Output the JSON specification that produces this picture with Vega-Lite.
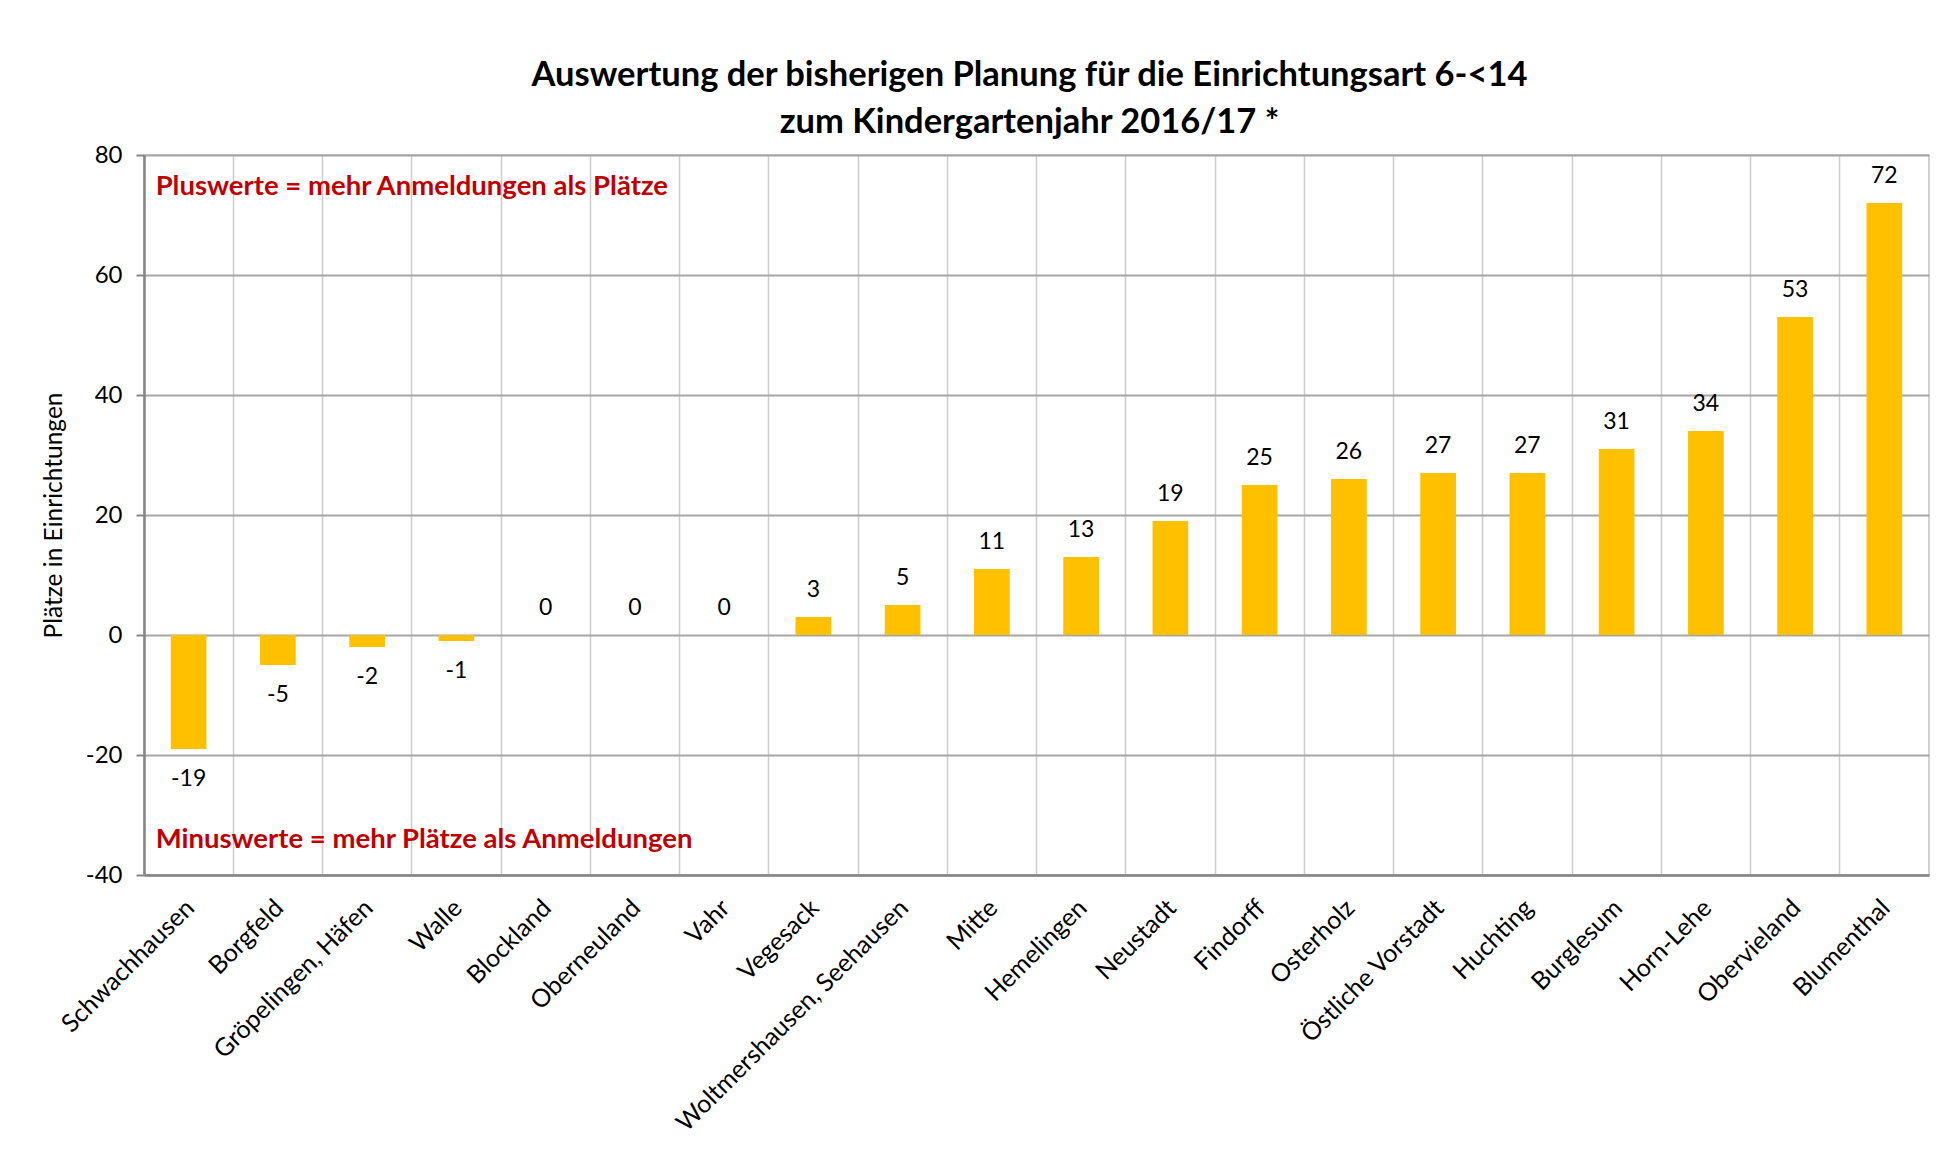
{
  "$schema": "https://vega.github.io/schema/vega-lite/v6.json",
  "width": 1785,
  "height": 720,
  "autosize": {"type": "none"},
  "padding": {"left": 144, "top": 155, "right": 10, "bottom": 275},
  "background": "white",
  "config": {
    "font": "Lato",
    "view": {"stroke": "#c4c4c4", "strokeWidth": 1.5},
    "axisX": {"gridColor": "#cccccc", "gridWidth": 1.5},
    "axisY": {"gridColor": "#a6a6a6", "gridWidth": 2}
  },
  "title": {
    "text": ["Auswertung der bisherigen Planung für die Einrichtungsart 6-<14", "zum Kindergartenjahr 2016/17 *"],
    "font": "Lato",
    "fontSize": 34.5,
    "fontWeight": "bold",
    "color": "#000000",
    "anchor": "middle",
    "lineHeight": 47,
    "offset": 3,
    "dx": -7
  },
  "datasets": {
    "bars": [
      {"bezirk": "Schwachhausen", "wert": -19},
      {"bezirk": "Borgfeld", "wert": -5},
      {"bezirk": "Gröpelingen, Häfen", "wert": -2},
      {"bezirk": "Walle", "wert": -1},
      {"bezirk": "Blockland", "wert": 0},
      {"bezirk": "Oberneuland", "wert": 0},
      {"bezirk": "Vahr", "wert": 0},
      {"bezirk": "Vegesack", "wert": 3},
      {"bezirk": "Woltmershausen, Seehausen", "wert": 5},
      {"bezirk": "Mitte", "wert": 11},
      {"bezirk": "Hemelingen", "wert": 13},
      {"bezirk": "Neustadt", "wert": 19},
      {"bezirk": "Findorff", "wert": 25},
      {"bezirk": "Osterholz", "wert": 26},
      {"bezirk": "Östliche Vorstadt", "wert": 27},
      {"bezirk": "Huchting", "wert": 27},
      {"bezirk": "Burglesum", "wert": 31},
      {"bezirk": "Horn-Lehe", "wert": 34},
      {"bezirk": "Obervieland", "wert": 53},
      {"bezirk": "Blumenthal", "wert": 72}
    ],
    "notes": [
      {"bezirk": "Schwachhausen", "wert": 74.7, "text": "Pluswerte = mehr Anmeldungen als Plätze"},
      {"bezirk": "Schwachhausen", "wert": -34.2, "text": "Minuswerte = mehr Plätze als Anmeldungen"}
    ]
  },
  "encoding": {
    "x": {
      "field": "bezirk",
      "type": "nominal",
      "sort": null,
      "scale": {"paddingInner": 0, "paddingOuter": 0},
      "axis": {
        "title": null,
        "labelAngle": -45,
        "labelAlign": "right",
        "labelBaseline": "top",
        "labelFontSize": 25,
        "labelColor": "#000000",
        "labelPadding": 20,
        "labelOffset": -7,
        "labelLimit": 500,
        "ticks": false,
        "domainColor": "#868686",
        "domainWidth": 2.5,
        "grid": true,
        "bandPosition": 0
      }
    },
    "y": {
      "field": "wert",
      "type": "quantitative",
      "scale": {"domain": [-40, 80], "nice": false, "zero": false},
      "axis": {
        "title": "Plätze in Einrichtungen",
        "titleFontSize": 24.5,
        "titleFontWeight": "normal",
        "titleColor": "#000000",
        "titlePadding": 19,
        "values": [-40, -20, 0, 20, 40, 60, 80],
        "labelExpr": "replace(datum.label, '−', '-')",
        "labelFontSize": 24,
        "labelColor": "#000000",
        "labelPadding": 14,
        "tickSize": 8,
        "tickColor": "#868686",
        "tickWidth": 2,
        "domainColor": "#868686",
        "domainWidth": 2.5,
        "grid": true
      }
    }
  },
  "layer": [
    {
      "data": {"name": "bars"},
      "mark": {"type": "bar", "color": "#FFC000", "width": {"band": 0.4}},
      "encoding": {}
    },
    {
      "data": {"name": "bars"},
      "transform": [{"filter": "datum.wert >= 0"}],
      "mark": {"type": "text", "fontSize": 23, "color": "#000000", "baseline": "middle", "dy": -27},
      "encoding": {"text": {"field": "wert", "type": "nominal"}}
    },
    {
      "data": {"name": "bars"},
      "transform": [{"filter": "datum.wert < 0"}],
      "mark": {"type": "text", "fontSize": 23, "color": "#000000", "baseline": "middle", "dy": 30},
      "encoding": {"text": {"field": "wert", "type": "nominal"}}
    },
    {
      "data": {"name": "notes"},
      "mark": {"type": "text", "fontSize": 27.5, "fontWeight": "bold", "color": "#C00000", "align": "left", "baseline": "middle", "dx": -33},
      "encoding": {"text": {"field": "text", "type": "nominal"}}
    }
  ]
}
